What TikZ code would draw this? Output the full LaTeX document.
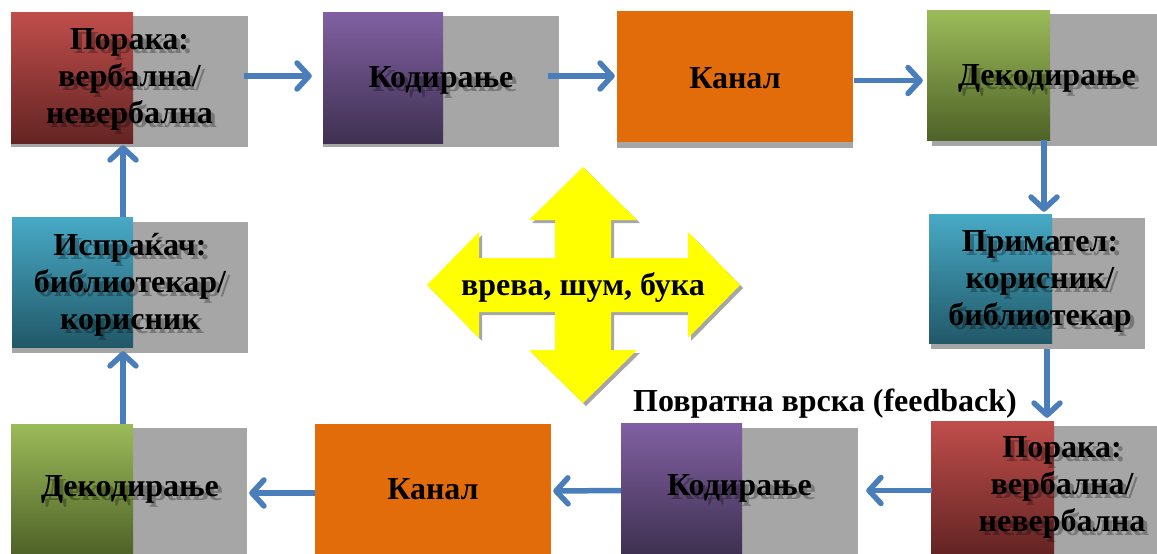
\documentclass[tikz,border=0pt]{standalone}
\usepackage{fontspec}
\setmainfont{Liberation Serif}
\usetikzlibrary{arrows.meta,fit}
\definecolor{cgrey}{RGB}{166,166,166}
\definecolor{redT}{RGB}{192,78,75}
\definecolor{redB}{RGB}{99,36,35}
\definecolor{purT}{RGB}{128,96,162}
\definecolor{purB}{RGB}{63,49,81}
\definecolor{grnT}{RGB}{155,187,89}
\definecolor{grnB}{RGB}{79,98,40}
\definecolor{tealT}{RGB}{72,170,198}
\definecolor{tealB}{RGB}{33,88,104}
\definecolor{corange}{RGB}{226,108,10}
\definecolor{cblue}{RGB}{74,126,187}
\definecolor{cyellow}{RGB}{255,255,0}
\tikzset{
  boxarea/.style={inner sep=0pt, draw=none},
  lbl/.style={font=\bfseries\fontsize{32}{37}\selectfont, align=center, inner sep=0pt},
  lblshadow/.style={lbl, text=black, text opacity=0.28},
  conn/.style={draw=cblue, line width=5.5pt,
    -{Straight Barb[length=12pt,width=26pt,line cap=round,line join=round]}},
}
\begin{document}
\begin{tikzpicture}[x=1pt,y=-1pt]
\useasboundingbox (0,0) rectangle (1157,554);
% ---------- boxes ----------
% 1 Poraka top
\fill[cgrey] (11,16) rectangle (248,147);
\shade[top color=redT, bottom color=redB] (11,12) rectangle (133,143);
\node[boxarea, fit={(11,12)(248,147)}] (n1) {};
% 2 Kodiranje top
\fill[cgrey] (323,16) rectangle (559,147);
\shade[top color=purT, bottom color=purB] (323,12) rectangle (443,143);
\node[boxarea, fit={(323,12)(559,147)}] (n2) {};
% 3 Kanal top
\fill[cgrey] (617,16) rectangle (853,148);
\fill[corange] (617,11) rectangle (853,142);
\node[boxarea, fit={(617,11)(853,148)}] (n3) {};
% 4 Dekodiranje top
\fill[cgrey] (932,14) rectangle (1157,146);
\shade[top color=grnT, bottom color=grnB] (927,10) rectangle (1050,140);
\node[boxarea, fit={(927,10)(1157,146)}] (n4) {};
% 5 Primatel
\fill[cgrey] (931,218) rectangle (1145,349);
\shade[top color=tealT, bottom color=tealB] (929,214) rectangle (1052,343);
\node[boxarea, fit={(929,214)(1145,349)}] (n5) {};
% 6 Poraka bottom
\fill[cgrey] (933,426) rectangle (1157,554);
\shade[top color=redT, bottom color=redB] (931,421) rectangle (1054,554);
\node[boxarea, fit={(931,421)(1157,554)}] (n6) {};
% 7 Kodiranje bottom
\fill[cgrey] (621,428) rectangle (858,554);
\shade[top color=purT, bottom color=purB] (621,423) rectangle (742,554);
\node[boxarea, fit={(621,423)(858,554)}] (n7) {};
% 8 Kanal bottom
\fill[cgrey] (315,428) rectangle (551,554);
\fill[corange] (315,424) rectangle (551,554);
\node[boxarea, fit={(315,424)(551,554)}] (n8) {};
% 9 Dekodiranje bottom
\fill[cgrey] (11,428) rectangle (247,554);
\shade[top color=grnT, bottom color=grnB] (11,424) rectangle (133,554);
\node[boxarea, fit={(11,424)(247,554)}] (n9) {};
% 10 Ispraćač
\fill[cgrey] (12,222) rectangle (248,353);
\shade[top color=tealT, bottom color=tealB] (12,217) rectangle (133,347);
\node[boxarea, fit={(12,217)(248,353)}] (n10) {};

% ---------- labels ----------
\node[lblshadow] (s1) at ([xshift=4pt,yshift=-4pt]n1.center) {Порака:\\вербална/\\невербална};
\node[lbl] (t1) at (n1.center) {Порака:\\вербална/\\невербална};
\node[lblshadow] (s2) at ([xshift=4pt,yshift=-5pt]n2.center) {Кодирање};
\node[lbl] (t2) at ([yshift=-1pt]n2.center) {Кодирање};
\node[lbl] (t3) at ([yshift=1pt]n3.center) {Канал};
\node[lblshadow] (s4) at ([xshift=9pt,yshift=-4pt]n4.center) {Декодирање};
\node[lbl] (t4) at ([xshift=5pt]n4.center) {Декодирање};
\node[lblshadow] (s5) at ([xshift=7pt,yshift=-4pt]n5.center) {Примател:\\корисник/\\библиотекар};
\node[lbl] (t5) at ([xshift=3pt]n5.center) {Примател:\\корисник/\\библиотекар};
\node[lblshadow] (s6) at ([xshift=22pt,yshift=-4pt]n6.center) {Порака:\\вербална/\\невербална};
\node[lbl] (t6) at ([xshift=18pt]n6.center) {Порака:\\вербална/\\невербална};
\node[lblshadow] (s7) at ([xshift=4pt,yshift=-4pt]n7.center) {Кодирање};
\node[lbl] (t7) at (n7.center) {Кодирање};
\node[lbl] (t8) at (n8.center) {Канал};
\node[lblshadow] (s9) at ([xshift=5pt,yshift=-4pt]n9.center) {Декодирање};
\node[lbl] (t9) at ([xshift=1pt]n9.center) {Декодирање};
\node[lblshadow] (s10) at ([xshift=4pt,yshift=-4pt]n10.center) {Испраќач:\\библиотекар/\\корисник};
\node[lbl] (t10) at (n10.center) {Испраќач:\\библиотекар/\\корисник};

% ---------- connectors ----------
\draw[conn] ([xshift=-4pt,yshift=3.5pt]n1.east) -- ([xshift=-11pt,yshift=3.5pt]n2.west);
\draw[conn] ([xshift=-11pt,yshift=3.5pt]n2.east) -- ([xshift=-2pt,yshift=3.5pt]n3.west);
\draw[conn] ([xshift=1pt,yshift=-1pt]n3.east) -- ([xshift=-4pt,yshift=-2.5pt]n4.west);
\draw[conn] ([xshift=2pt,yshift=6pt]n4.south) -- ([xshift=7pt,yshift=2pt]n5.north);
\draw[conn] ([xshift=10pt]n5.south) -- ([xshift=3pt,yshift=3pt]n6.north);
\draw[conn] ([xshift=1pt,yshift=-3pt]n6.west) -- ([xshift=8pt,yshift=-2pt]n7.east);
\draw[conn] ([yshift=-2pt]n7.west) -- ([xshift=2pt,yshift=-2pt]n8.east);
\draw[conn] ([yshift=-4pt]n8.west) -- ([xshift=2pt,yshift=-4pt]n9.east);
\draw[conn] ([xshift=-6pt]n9.north) -- ([xshift=-7pt,yshift=2pt]n10.south);
\draw[conn] ([xshift=-7pt]n10.north) -- ([xshift=-6.5pt,yshift=2pt]n1.south);

% ---------- central four-way arrow ----------
\def\crossarrow{(583,167) -- (637,220) -- (611,220) -- (611,258) -- (688,258) -- (688,232) -- (740,285) -- (688,338) -- (688,312) -- (611,312) -- (611,350) -- (637,350) -- (583,403) -- (529,350) -- (555,350) -- (555,312) -- (479,312) -- (479,338) -- (427,285) -- (479,232) -- (479,258) -- (555,258) -- (555,220) -- (529,220) -- cycle}
\fill[black!35, shift={(3,3)}] \crossarrow;
\fill[cyellow] \crossarrow;
\node[lbl] (noise) at (583,287) {врева, шум, бука};

% ---------- feedback label ----------
\node[lbl] (fb) at (825,404) {Повратна врска (feedback)};
\end{tikzpicture}
\end{document}
